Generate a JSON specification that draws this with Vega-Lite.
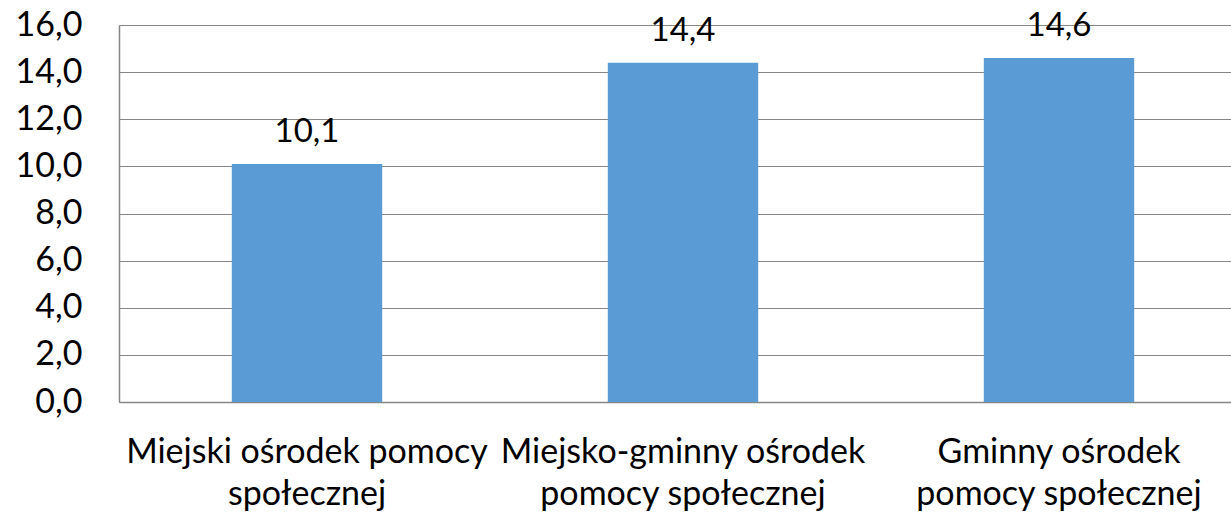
{
  "$schema": "https://vega.github.io/schema/vega-lite/v6.json",
  "width": 1128,
  "height": 377,
  "autosize": {"type": "none"},
  "padding": {"left": 119, "top": 25, "right": 0, "bottom": 113},
  "config": {
    "locale": {"number": {"decimal": ",", "thousands": " ", "grouping": [3], "currency": ["", " zł"]}},
    "view": {"stroke": null},
    "font": "Lato"
  },
  "data": {
    "values": [
      {"kategoria": "Miejski ośrodek pomocy|społecznej", "wartosc": 10.1},
      {"kategoria": "Miejsko-gminny ośrodek|pomocy społecznej", "wartosc": 14.4},
      {"kategoria": "Gminny ośrodek|pomocy społecznej", "wartosc": 14.6}
    ]
  },
  "encoding": {
    "x": {
      "field": "kategoria",
      "type": "nominal",
      "sort": null,
      "scale": {"paddingInner": 0.6, "paddingOuter": 0.3},
      "axis": {
        "title": null,
        "labelAngle": 0,
        "labelExpr": "split(datum.label, '|')",
        "labelFontSize": 34,
        "labelColor": "#000000",
        "labelPadding": 33,
        "labelLineHeight": 42,
        "labelBaseline": "top",
        "ticks": false,
        "domainColor": "#868686",
        "domainWidth": 1.5,
        "labelLimit": 0
      }
    },
    "y": {
      "field": "wartosc",
      "type": "quantitative",
      "scale": {"domain": [0, 16], "nice": false},
      "axis": {
        "title": null,
        "values": [0, 2, 4, 6, 8, 10, 12, 14, 16],
        "format": ".1f",
        "labelFontSize": 34,
        "labelColor": "#000000",
        "labelPadding": 37,
        "ticks": false,
        "domainColor": "#868686",
        "domainWidth": 1.5,
        "gridColor": "#868686",
        "gridWidth": 1.2
      }
    }
  },
  "layer": [
    {"mark": {"type": "bar", "color": "#5B9BD5"}},
    {
      "mark": {"type": "text", "fontSize": 33, "color": "#000000", "baseline": "alphabetic", "dy": -22},
      "encoding": {"text": {"field": "wartosc", "type": "quantitative", "format": ".1f"}}
    }
  ]
}
